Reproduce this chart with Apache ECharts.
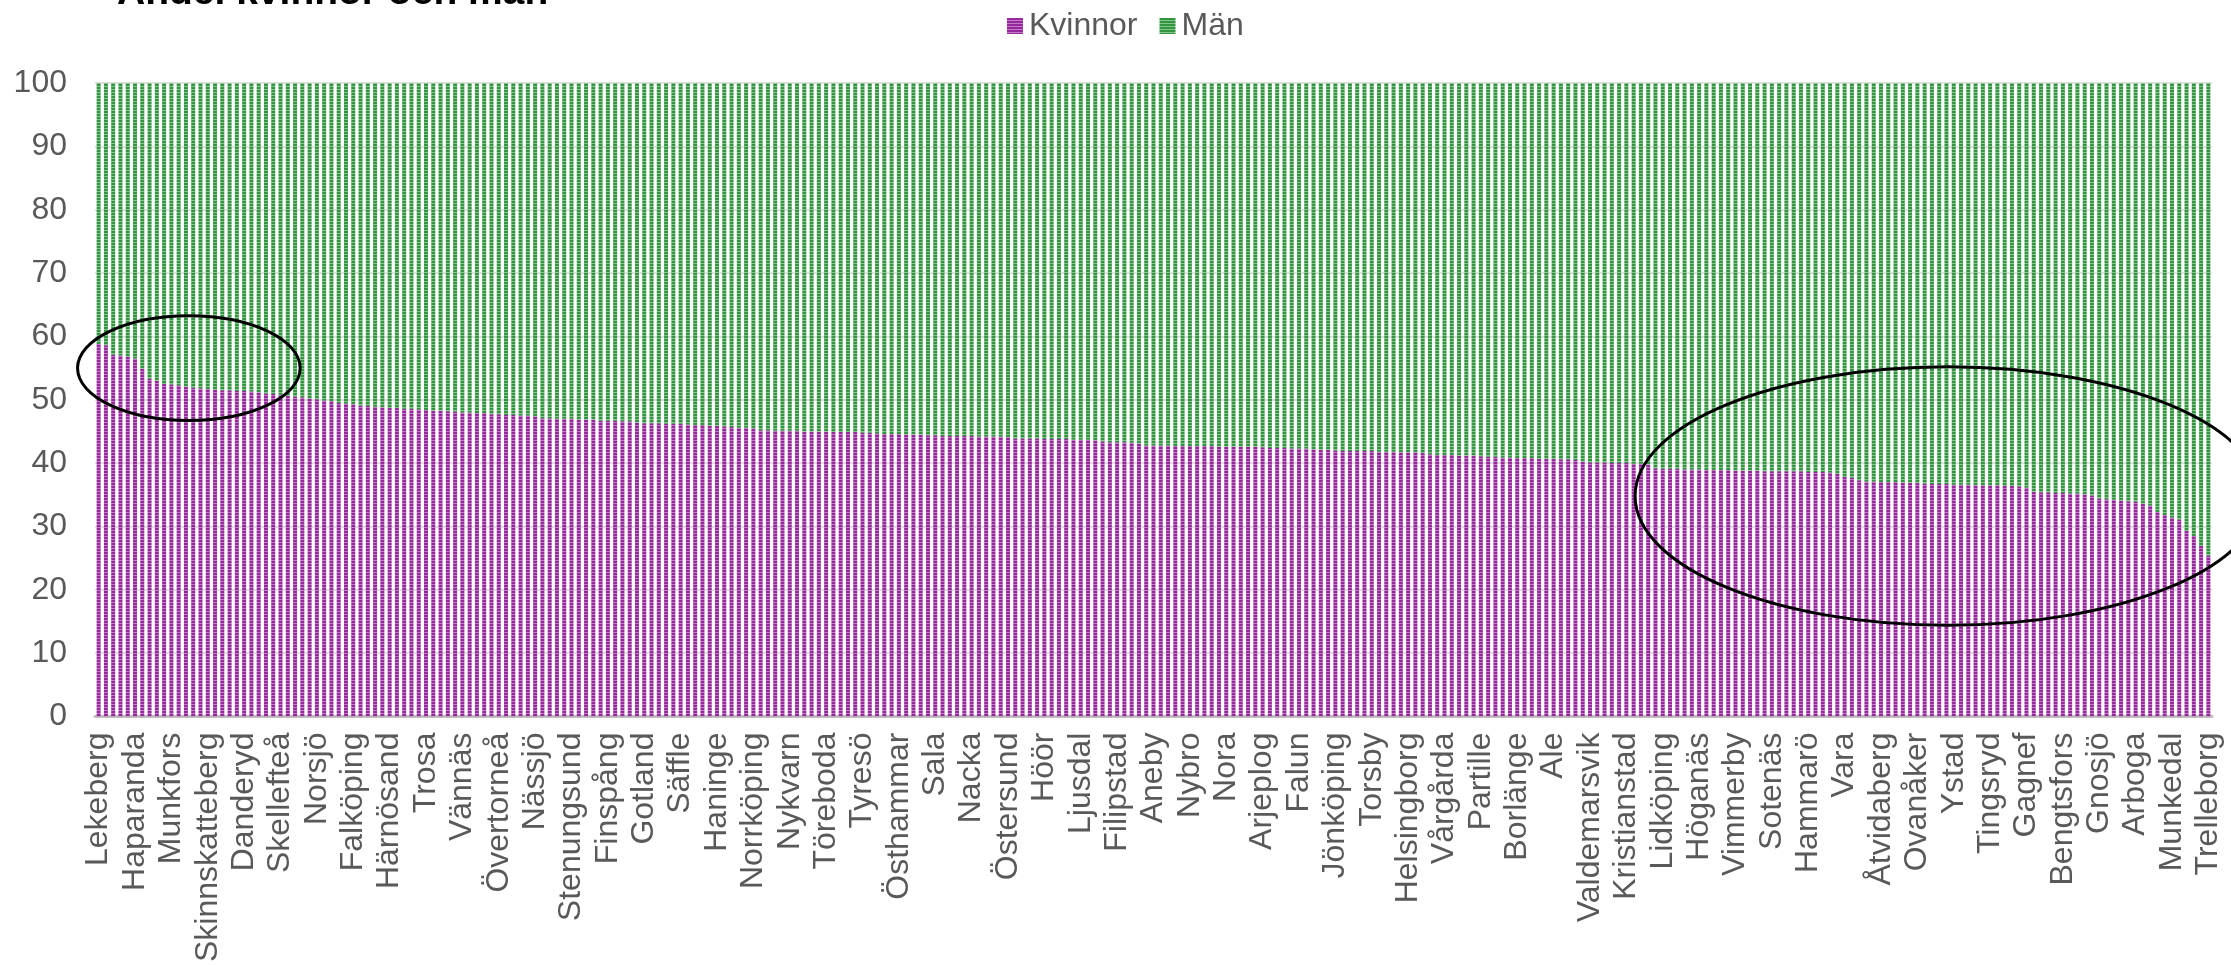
<!DOCTYPE html>
<html>
<head>
<meta charset="utf-8">
<script src="https://cdn.jsdelivr.net/npm/echarts@6/dist/echarts.min.js"></script>
<style>
html,body{margin:0;padding:0;background:#fff;}
#chart{width:2231px;height:965px;}
</style>
</head>
<body>
<div id="chart"></div>
<script>
// Tick labels shown on the x axis (every 5th municipality)
const shownLabels = ["Lekeberg","Haparanda","Munkfors","Skinnskatteberg","Danderyd","Skellefteå","Norsjö","Falköping","Härnösand","Trosa","Vännäs","Övertorneå","Nässjö","Stenungsund","Finspång","Gotland","Säffle","Haninge","Norrköping","Nykvarn","Töreboda","Tyresö","Östhammar","Sala","Nacka","Östersund","Höör","Ljusdal","Filipstad","Aneby","Nybro","Nora","Arjeplog","Falun","Jönköping","Torsby","Helsingborg","Vårgårda","Partille","Borlänge","Ale","Valdemarsvik","Kristianstad","Lidköping","Höganäs","Vimmerby","Sotenäs","Hammarö","Vara","Åtvidaberg","Ovanåker","Ystad","Tingsryd","Gagnef","Bengtsfors","Gnosjö","Arboga","Munkedal","Trelleborg"];
const labelStep = 5;
const seriesNames = ["Kvinnor","Män"];
const yTicks = {min:0, max:100, interval:10};
// Share of women (%) per municipality
const kvinnor = [
58.8,58.6,57.1,57.0,56.8,56.5,54.9,53.3,53.0,52.5,
52.4,52.3,52.1,51.9,51.8,51.7,51.6,51.5,51.5,51.4,
51.4,51.3,51.2,51.0,50.9,50.8,50.6,50.5,50.4,50.2,
50.1,49.9,49.8,49.5,49.4,49.3,49.1,49.0,48.9,48.8,
48.7,48.7,48.6,48.6,48.5,48.4,48.3,48.3,48.2,48.1,
48.0,48.0,47.9,47.9,47.7,47.7,47.6,47.6,47.5,47.5,
47.4,47.1,47.1,47.0,47.0,47.0,46.9,46.9,46.9,46.7,
46.7,46.7,46.6,46.6,46.4,46.3,46.3,46.3,46.2,46.2,
46.2,46.1,46.0,46.0,45.9,45.9,45.8,45.7,45.6,45.6,
45.5,45.2,45.2,45.1,45.1,45.1,45.1,45.0,45.0,45.0,
45.0,44.9,44.9,44.9,44.9,44.8,44.8,44.7,44.6,44.6,
44.6,44.5,44.5,44.5,44.4,44.4,44.3,44.3,44.3,44.3,
44.3,44.2,44.2,44.2,44.2,44.1,43.9,43.9,43.9,43.9,
43.8,43.8,43.8,43.8,43.7,43.7,43.7,43.6,43.4,43.3,
43.3,43.3,43.2,43.1,42.8,42.8,42.8,42.8,42.7,42.7,
42.7,42.7,42.7,42.7,42.6,42.6,42.6,42.6,42.6,42.6,
42.5,42.4,42.4,42.4,42.3,42.3,42.3,42.2,42.1,42.1,
42.0,41.9,41.9,41.9,41.9,41.9,41.8,41.8,41.8,41.7,
41.7,41.7,41.6,41.4,41.3,41.3,41.3,41.2,41.2,41.2,
41.1,41.0,41.0,40.9,40.9,40.8,40.8,40.8,40.7,40.7,
40.7,40.6,40.6,40.5,40.2,40.1,40.1,40.1,40.0,40.0,
40.0,39.9,39.9,39.8,39.2,39.1,39.1,39.1,39.0,39.0,
39.0,38.9,38.9,38.9,38.9,38.8,38.8,38.8,38.8,38.7,
38.7,38.7,38.7,38.7,38.7,38.6,38.6,38.6,38.5,38.3,
37.8,37.7,37.3,37.1,37.1,37.0,37.0,37.0,36.9,36.9,
36.9,36.8,36.7,36.7,36.7,36.6,36.6,36.6,36.5,36.5,
36.5,36.5,36.4,36.4,36.3,36.1,35.5,35.4,35.4,35.3,
35.3,35.2,35.2,35.1,34.9,34.4,34.3,34.2,34.1,34.0,
33.9,33.6,33.3,32.3,31.8,31.4,31.1,29.3,28.5,26.9,
25.4
];
// Annotation ellipses, in data units: [center category index, center value, half-width in categories, half-height in value]
const rings = [
  [12.4, 55.0, 15.3, 8.27],
  [254.2, 34.8, 43.0, 20.4]
];

const categories = kvinnor.map((_, i) => (i % labelStep === 0 ? shownLabels[i / labelStep] : ''));
const man = kvinnor.map(v => +(100 - v).toFixed(1));

function makePattern(dark, light) {
  const c = document.createElement('canvas');
  c.width = 4; c.height = 3;
  const g = c.getContext('2d');
  g.fillStyle = dark; g.fillRect(0, 0, 4, 2);
  g.fillStyle = light; g.fillRect(0, 2, 4, 1);
  return {image: c, repeat: 'repeat'};
}
const purple = makePattern('#962a9c', '#c27ac6');
const green = makePattern('#33953f', '#86c48e');

const FONT = '"Liberation Sans", Arial, sans-serif';
const chart = echarts.init(document.getElementById('chart'), null, {renderer: 'canvas'});
const option = {
  animation: false,
  backgroundColor: '#ffffff',
  textStyle: {fontFamily: FONT},
  legend: {
    left: 1002, top: 5,
    itemWidth: 16, itemHeight: 16, itemGap: 22,
    icon: 'rect',
    textStyle: {fontSize: 32, color: '#595959', fontFamily: FONT, padding: [0, 0, 0, 1]},
    data: seriesNames
  },
  grid: {left: 95, right: 19, top: 83, bottom: 247, containLabel: false},
  xAxis: {
    type: 'category',
    data: categories,
    axisLine: {lineStyle: {color: '#bfbfbf', width: 3}},
    axisTick: {show: false},
    axisLabel: {interval: labelStep - 1, rotate: 90, fontSize: 32, color: '#595959', margin: 16, fontFamily: FONT, hideOverlap: false}
  },
  yAxis: {
    type: 'value',
    min: yTicks.min, max: yTicks.max, interval: yTicks.interval,
    axisLine: {show: false},
    axisTick: {show: false},
    axisLabel: {fontSize: 32, color: '#595959', margin: 28, fontFamily: FONT},
    splitLine: {lineStyle: {color: '#d9d9d9', width: 1.5}}
  },
  series: [
    {name: seriesNames[0], type: 'bar', stack: 'total', data: kvinnor, barCategoryGap: '45%', itemStyle: {color: purple}},
    {name: seriesNames[1], type: 'bar', stack: 'total', data: man, barCategoryGap: '45%', itemStyle: {color: green}}
  ],
  graphic: [
    {type: 'text', left: 117, top: -26, z: 10,
     style: {text: 'Andel kvinnor och män', fontSize: 39, fontWeight: 'bold', fill: '#000', fontFamily: FONT}}
  ]
};
chart.setOption(option);

// place annotation ellipses through the axes' own scales
const p0 = chart.convertToPixel({gridIndex: 0}, [0, 0]);
const p1 = chart.convertToPixel({gridIndex: 0}, [1, 10]);
const bw = p1[0] - p0[0];
const perUnit = (p0[1] - p1[1]) / 10;
const ellipses = rings.map((r, k) => ({
  type: 'ellipse', id: 'ring' + k, z: 20, silent: true,
  shape: {cx: p0[0] + r[0] * bw, cy: p0[1] - r[1] * perUnit, rx: r[2] * bw, ry: r[3] * perUnit},
  style: {fill: 'none', stroke: '#000', lineWidth: 3}
}));
chart.setOption({graphic: option.graphic.concat(ellipses)});
</script>
</body>
</html>
